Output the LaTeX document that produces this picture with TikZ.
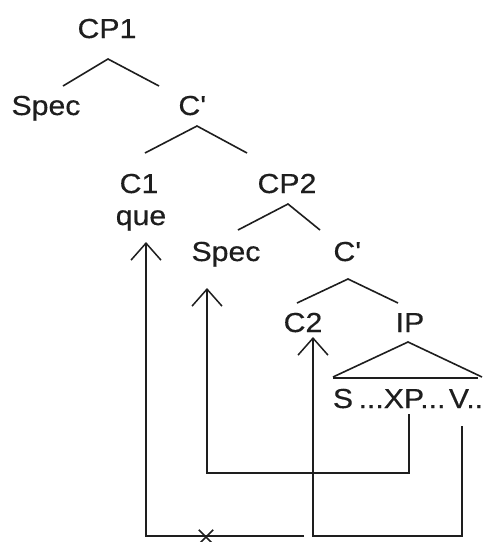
\documentclass[tikz,border=0pt]{standalone}
\usepackage{fontspec}
\setmainfont{Liberation Sans}[FakeStretch=1.1,FakeBold=0.4]
\usetikzlibrary{arrows.meta,calc,shapes.misc}
\definecolor{Ink}{HTML}{1E1E1E}
\definecolor{Paper}{HTML}{FFFFFF}
\newcommand{\barmark}{\textquotesingle}
\tikzset{
  lab/.style={anchor=base,inner sep=0pt,font=\fontsize{27.5}{30}\selectfont,text=Ink},
  branch/.style={draw=Ink,line width=1.6pt},
  base/.style={draw=Ink,line width=2.6pt},
  move/.style={-{Straight Barb[length=17pt,width=30pt,line width=1.5pt]},draw=Ink,line width=1.5pt},
  blocked/.style={cross out,draw=Ink,line width=1.5pt,minimum size=13pt,inner sep=0pt}
}
\begin{document}
\begin{tikzpicture}[x=1pt,y=-1pt]
        \useasboundingbox[fill=Paper] (0,0) rectangle (485,542);
        % top layer
        \node[lab] (cp1) at (107,38) {CP1};
        \node[lab] (spec1) at (46,115) {Spec};
        \node[lab] (cbar1) at (192,115) {C\barmark};
        \draw[branch] (63,86) -- (108,59) -- (159,86);
        % C' 1
        \node[lab] (c1) at (139,193) {C1};
        \node[lab] (que) at (141,225) {que};
        \node[lab] (cp2) at (287,193) {CP2};
        \draw[branch] (145,153) -- (197,126) -- (247,153);
        % CP2
        \node[lab] (spec2) at (226,261) {Spec};
        \node[lab] (cbar2) at (347,261) {C\barmark};
        \draw[branch] (238,230) -- (288,204) -- (320,230);
        % C' 2
        \node[lab] (c2) at (303,332) {C2};
        \node[lab] (ip) at (410,332) {IP};
        \draw[branch] (297,303) -- (348,279) -- (398,303);
        % IP triangle
        \draw[branch] (333,377) -- (408,342) -- (482,377);
        \draw[base] (333,378) -- (478,378);
        \node[lab] (s) at (343,408) {S};
        \node[lab] (xp) at (402,408) {...XP...};
        \node[lab] (v) at (466,408) {V..};
        % movement paths
        \coordinate (xpfoot) at (409,414);
        \coordinate (vfoot) at (462,426);
        \coordinate (spectip) at (207,288);
        \coordinate (c2tip) at (313,337);
        \coordinate (quetip) at (146,242);
        \coordinate (cut) at (304,536);
        \draw[move] (xpfoot) -- (xpfoot |- 0,473) -| (spectip);
        \draw[move] (vfoot) -- (vfoot |- 0,536) -| (c2tip);
        \draw[move] (cut) -| (quetip);
        \node[blocked] (block) at (206,537) {};
      \end{tikzpicture}
\end{document}
